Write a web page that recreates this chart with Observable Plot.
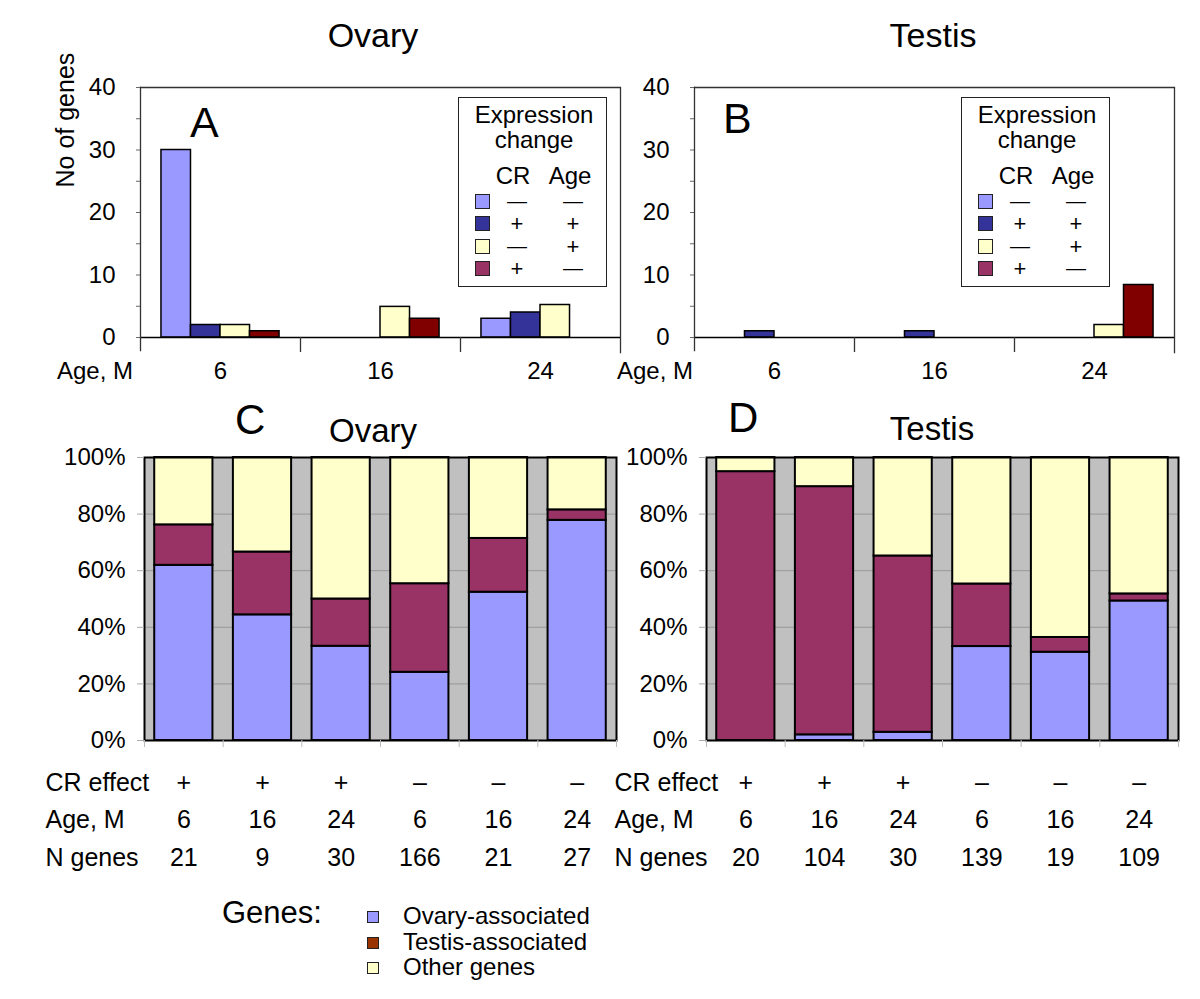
<!DOCTYPE html>
<html>
<head>
<meta charset="utf-8">
<script src="https://cdn.jsdelivr.net/npm/d3@7"></script>
<script src="https://cdn.jsdelivr.net/npm/@observablehq/plot@0.6"></script>
<style>
  html, body { margin: 0; padding: 0; background: #fff; }
  #root { position: relative; width: 1200px; height: 999px; overflow: hidden;
          font-family: "Liberation Sans", Arimo, Arial, sans-serif; color: #000; background: #fff; }
  .t { position: absolute; white-space: nowrap; line-height: 1; }
  .wrap { position: absolute; }
  .wrap svg { overflow: visible; }
</style>
</head>
<body>
<div id="root"></div>
<script>
// ---------------- DATA ----------------
// Panels A & B: number of genes by age (months) and expression-change group
const ages = ["6", "16", "24"];
const exprGroups = ["CR- Age-", "CR+ Age+", "CR- Age+", "CR+ Age-"];
const exprBarColors = ["#9999FF", "#333399", "#FFFFCC", "#800000"];
const exprSwatchColors = ["#9999FF", "#333399", "#FFFFCC", "#993366"];
const exprCRSign = ["—", "+", "—", "+"];
const exprAgeSign = ["—", "+", "+", "—"];
// Ovary (panel A), one value per age 6, 16, 24
const ovaryDownDown = [30, 0, 3];
const ovaryUpUp = [2, 0, 4];
const ovaryDownUp = [2, 4.9, 5.2];
const ovaryUpDown = [1, 3, 0];
// Testis (panel B)
const testisDownDown = [0, 0, 0];
const testisUpUp = [1, 1, 0];
const testisDownUp = [0, 0, 2];
const testisUpDown = [0, 0, 8.4];
const countTicks = [0, 5, 10, 15, 20, 25, 30, 35, 40];

// Panels C & D: percentage of genes by category
const cdCR = ["+", "+", "+", "–", "–", "–"];
const cdAge = ["6", "16", "24", "6", "16", "24"];
const nGenesOvary = [21, 9, 30, 166, 21, 27];
const nGenesTestis = [20, 104, 30, 139, 19, 109];
const geneGroups = ["Ovary-associated", "Testis-associated", "Other genes"];
const geneBarColors = ["#9999FF", "#993366", "#FFFFCC"];
const geneLegendColors = ["#9999FF", "#993300", "#FFFFCC"];
const ovaryPctOvaryAssoc = [61.9, 44.4, 33.3, 24.1, 52.4, 77.8];
const ovaryPctTestisAssoc = [14.3, 22.2, 16.7, 31.3, 19.0, 3.7];
const testisPctOvaryAssoc = [0, 2.0, 2.9, 33.2, 31.2, 49.3];
const testisPctTestisAssoc = [95.0, 87.7, 62.3, 22.1, 5.2, 2.5];
const pctTicks = [0, 0.2, 0.4, 0.6, 0.8, 1];
const tableLabels = ["CR effect", "Age, M", "N genes"];

// ---------------- HELPERS ----------------
const FONT = '"Liberation Sans", Arimo, Arial, sans-serif';
const root = document.getElementById("root");

function text(str, x, baseline, size, anchor = "start", parent = root) {
  const d = document.createElement("div");
  d.className = "t";
  d.textContent = str;
  d.style.fontSize = size + "px";
  d.style.top = (baseline - 0.8465 * size) + "px";
  d.style.left = x + "px";
  if (anchor === "middle") d.style.transform = "translateX(-50%)";
  if (anchor === "end") d.style.transform = "translateX(-100%)";
  parent.appendChild(d);
  return d;
}
function place(el, left, top, width) {
  const w = document.createElement("div");
  w.className = "wrap";
  w.style.left = left + "px";
  w.style.top = top + "px";
  w.style.width = width + "px";
  w.appendChild(el);
  root.appendChild(w);
}

// ---------------- PANELS A & B ----------------
function countPanel(series, ylabel) {
  const W = 640, ml = 140, mr = 20, mt = 87, mb = 53, H = 390;
  const bw = (W - ml - mr) / ages.length;
  const rows = [];
  exprGroups.forEach((g, j) => ages.forEach((a, i) => rows.push({age: a, group: g, n: series[j][i]})));
  const marks = [
    Plot.barY(rows.filter(d => d.n > 0), {fx: "age", x: "group", y: "n", fill: "group", stroke: "#000", strokeWidth: 1.5}),
    Plot.ruleY([40], {stroke: "#333", strokeWidth: 1.3}),
    Plot.ruleY([0], {stroke: "#000", strokeWidth: 1.6}),
    Plot.frame({anchor: "left", facetAnchor: "left", insetBottom: -13, stroke: "#333", strokeWidth: 1.3}),
    Plot.frame({anchor: "right", facetAnchor: "right", insetBottom: -15, stroke: "#333", strokeWidth: 1.3}),
    Plot.axisFx({anchor: "bottom", ticks: ages.slice(1), tickSize: 15, tickFormat: () => "", dx: -bw / 2, stroke: "#333", strokeWidth: 1.3, label: null}),
    Plot.axisFx({anchor: "bottom", tickSize: 0, tickPadding: 24, fontSize: 24, label: null, fill: "#000"}),
    Plot.axisY({ticks: countTicks, tickSize: 4, tickPadding: 21, tickFormat: d => d % 10 === 0 ? String(d) : "",
                fontSize: 24, stroke: "#666", fill: "#000", label: null})
  ];
  if (ylabel) marks.push(Plot.text([ylabel], {frameAnchor: "left", facetAnchor: "left", rotate: -90, dx: -75, dy: -25, fontSize: 25, fill: "#000"}));
  return Plot.plot({
    width: W, height: H, marginLeft: ml, marginRight: mr, marginTop: mt, marginBottom: mb,
    style: {background: "transparent", overflow: "visible", fontFamily: FONT, color: "#000"},
    fx: {domain: ages, padding: 0, round: false},
    x: {domain: exprGroups, paddingInner: 0, paddingOuter: 0.71, round: false, axis: null},
    y: {domain: [0, 40]},
    color: {domain: exprGroups, range: exprBarColors},
    marks
  });
}

place(countPanel([ovaryDownDown, ovaryUpUp, ovaryDownUp, ovaryUpDown], "No of genes"), 0, 0, 640);
place(countPanel([testisDownDown, testisUpUp, testisDownUp, testisUpDown], null), 554, 0, 640);

// ---------------- PANELS C & D ----------------
function stackPanel(pctOvary, pctTestis, nGenes, labelDx) {
  const W = 600, ml = 106, mr = 22, mt = 67, mb = 140, H = 490;
  const keys = cdCR.map((c, i) => c + cdAge[i]);
  const step = (W - ml - mr) / keys.length;
  const rows = [];
  keys.forEach((k, i) => {
    rows.push({key: k, gene: geneGroups[0], pct: pctOvary[i]});
    rows.push({key: k, gene: geneGroups[1], pct: pctTestis[i]});
    rows.push({key: k, gene: geneGroups[2], pct: 100 - pctOvary[i] - pctTestis[i]});
  });
  const rowDy = [50, 87, 125];
  const rowVals = [cdCR, cdAge, nGenes];
  const marks = [
    Plot.frame({fill: "#C0C0C0"}),
    Plot.gridY({ticks: pctTicks.slice(1, -1), stroke: "#989898", strokeOpacity: 1, strokeWidth: 1}),
    Plot.barY(rows, Plot.stackY({x: "key", y: "pct", fill: "gene", z: "gene", order: geneGroups, offset: "normalize",
                                 stroke: "#000", strokeWidth: 2})),
    Plot.frame({stroke: "#000", strokeWidth: 2}),
    Plot.axisY({ticks: pctTicks, tickFormat: d3.format(".0%"), tickSize: 7, tickPadding: 12, fontSize: 24,
                stroke: "#aaa", fill: "#000", label: null}),
    Plot.axisX({anchor: "bottom", tickSize: 7, tickFormat: () => "", dx: -step / 2, stroke: "#bbb", label: null}),
    Plot.axisX({anchor: "bottom", ticks: [keys[keys.length - 1]], tickSize: 7, tickFormat: () => "", dx: step / 2, stroke: "#bbb", label: null})
  ];
  rowVals.forEach((vals, r) => {
    marks.push(Plot.text(keys.map((k, i) => ({key: k, v: String(vals[i])})),
      {x: "key", text: "v", frameAnchor: "bottom", dy: rowDy[r], fontSize: 25, fill: "#000"}));
    marks.push(Plot.text([tableLabels[r]], {frameAnchor: "bottom-left", textAnchor: "start", dx: labelDx, dy: rowDy[r], fontSize: 25, fill: "#000"}));
  });
  return Plot.plot({
    width: W, height: H, marginLeft: ml, marginRight: mr, marginTop: mt, marginBottom: mb,
    style: {background: "transparent", overflow: "visible", fontFamily: FONT, color: "#000"},
    x: {domain: keys, paddingInner: 0.26, paddingOuter: 0.13, round: false},
    y: {domain: [0, 1]},
    color: {domain: geneGroups, range: geneBarColors},
    marks
  });
}
place(stackPanel(ovaryPctOvaryAssoc, ovaryPctTestisAssoc, nGenesOvary, -99), 144 - 106, 390, 600);
place(stackPanel(testisPctOvaryAssoc, testisPctTestisAssoc, nGenesTestis, -92), 600, 390, 600);

// ---------------- TEXT & LEGENDS ----------------
text("Ovary", 373, 47, 34, "middle");
text("Testis", 933, 47, 34, "middle");
text("A", 190, 137, 43);
text("B", 723, 133, 43);
text("Age, M", 133, 379, 24, "end");
text("Age, M", 693, 379, 24, "end");
text("C", 235, 435, 42);
text("Ovary", 373, 442, 33, "middle");
text("D", 728, 433, 42);
text("Testis", 932, 440, 33, "middle");

function exprLegend(left) {
  const box = document.createElement("div");
  box.style.cssText = `position:absolute;left:${left}px;top:97px;width:147px;height:188px;border:1.5px solid #222;background:#fff;`;
  root.appendChild(box);
  text("Expression", 75, 25, 24, "middle", box);
  text("change", 75, 50, 24, "middle", box);
  text("CR", 54, 86, 24, "middle", box);
  text("Age", 111, 86, 24, "middle", box);
  const centers = [104, 126, 149, 171];
  exprGroups.forEach((g, j) => {
    const s = document.createElement("div");
    s.style.cssText = `position:absolute;left:16px;top:${centers[j] - 8}px;width:13px;height:13px;border:1.8px solid #222;background:${exprSwatchColors[j]};`;
    box.appendChild(s);
    const cr = exprCRSign[j], ag = exprAgeSign[j];
    text(cr, 58, centers[j] + (cr === "+" ? 8 : 6), cr === "+" ? 22 : 20, "middle", box);
    text(ag, 114, centers[j] + (ag === "+" ? 8 : 6), ag === "+" ? 22 : 20, "middle", box);
  });
}
exprLegend(458);
exprLegend(961);

// bottom legend
text("Genes:", 222, 923, 31);
const legendCenters = [917, 943, 968];
geneGroups.forEach((g, i) => {
  const s = document.createElement("div");
  s.style.cssText = `position:absolute;left:367px;top:${legendCenters[i] - 6}px;width:10px;height:10px;border:1.5px solid #222;background:${geneLegendColors[i]};`;
  root.appendChild(s);
  text(g, 403, legendCenters[i] + 7, 24);
});
</script>
</body>
</html>
